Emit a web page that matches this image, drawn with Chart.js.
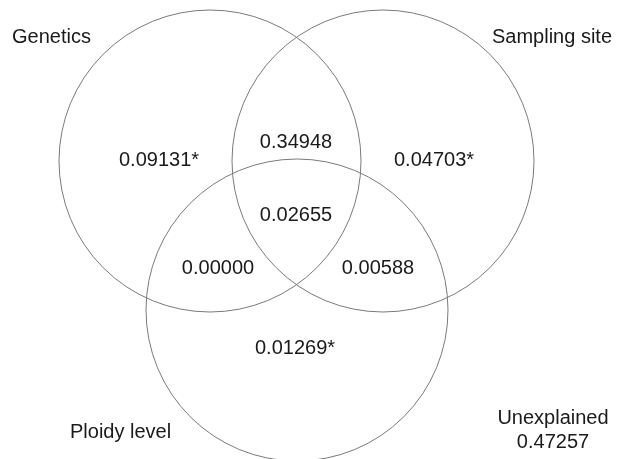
<!DOCTYPE html>
<html>
<head>
<meta charset="utf-8">
<script src="https://cdn.jsdelivr.net/npm/chart.js@4/dist/chart.umd.min.js"></script>
<style>
  html, body { margin: 0; padding: 0; background: #fff; }
  #wrap { width: 629px; height: 459px; }
</style>
</head>
<body>
<div id="wrap"><canvas id="venn" width="629" height="459"></canvas></div>
<script>
// circles (diagram units = pixels of the original figure)
var setNames = ['Genetics', 'Sampling site', 'Ploidy level'];
var circleX = [210, 383, 297];
var circleY = [161, 161, 310];
var circleR = [151, 151, 151];

// fractions of variance for each region
var regionValues = ['0.09131*', '0.34948', '0.04703*', '0.02655', '0.00000', '0.00588', '0.01269*'];
var regionX = [159, 296, 434, 296, 218, 378, 295];
var regionY = [160, 142, 160, 215, 268, 268, 348];

var unexplainedLabel = 'Unexplained';
var unexplainedValue = '0.47257';

// label anchors for the set names
var nameX = [12, 612, 70];
var nameY = [37, 37, 432];
var nameAlign = ['left', 'right', 'left'];

var FONT = '20px "Liberation Sans", Arial, sans-serif';
var TEXT = '#1a1a1a';

var bubbles = [];
for (var i = 0; i < circleX.length; i++) {
	bubbles[i] = { x: circleX[i], y: circleY[i], r: circleR[i] };
}

var textPlugin = {
	id: 'vennText',
	afterDatasetsDraw: function(chart) {
		var c = chart.ctx;
		var xs = chart.scales.x;
		var ys = chart.scales.y;
		c.save();
		c.font = FONT;
		c.fillStyle = TEXT;
		c.textBaseline = 'middle';

		c.textAlign = 'center';
		for (var i = 0; i < regionValues.length; i++) {
			c.fillText(regionValues[i], xs.getPixelForValue(regionX[i]), ys.getPixelForValue(regionY[i]));
		}

		for (var j = 0; j < setNames.length; j++) {
			c.textAlign = nameAlign[j];
			c.fillText(setNames[j], xs.getPixelForValue(nameX[j]), ys.getPixelForValue(nameY[j]));
		}

		c.textAlign = 'center';
		c.fillText(unexplainedLabel, xs.getPixelForValue(553), ys.getPixelForValue(418));
		c.fillText(unexplainedValue, xs.getPixelForValue(553), ys.getPixelForValue(442));
		c.restore();
	}
};

new Chart(document.getElementById('venn'), {
	type: 'bubble',
	data: {
		datasets: [{
			label: 'sets',
			data: bubbles,
			backgroundColor: 'rgba(0,0,0,0)',
			borderColor: '#7a7a7a',
			borderWidth: 1,
			clip: false,
			radius: function(ctx) {
				var xs = ctx.chart.scales.x;
				var v = ctx.raw;
				if (!xs || !v) return 0;
				return xs.getPixelForValue(v.x + v.r) - xs.getPixelForValue(v.x);
			}
		}]
	},
	options: {
		responsive: false,
		animation: false,
		events: [],
		layout: { padding: 0, autoPadding: false },
		scales: {
			x: { type: 'linear', min: 0, max: 629, display: false },
			y: { type: 'linear', min: 0, max: 459, reverse: true, display: false }
		},
		plugins: {
			legend: { display: false },
			tooltip: { enabled: false }
		}
	},
	plugins: [textPlugin]
});
</script>
</body>
</html>
